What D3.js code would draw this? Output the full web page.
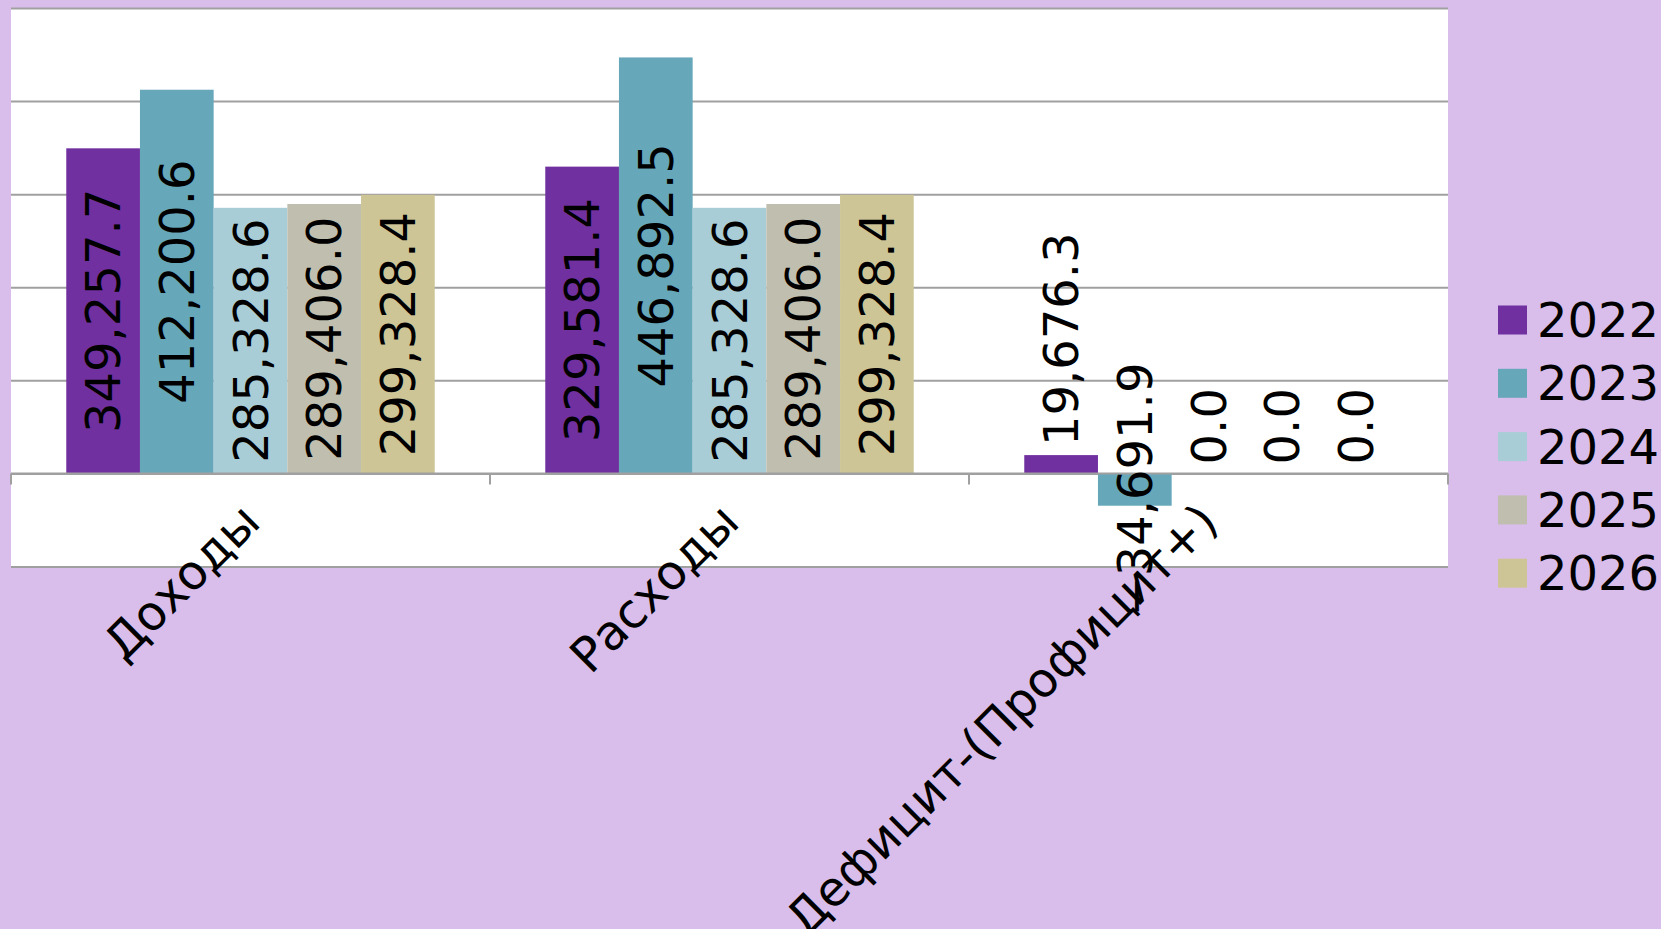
<!DOCTYPE html>
<html>
<head>
<meta charset="utf-8">
<script src="https://cdn.jsdelivr.net/npm/d3@7"></script>
<style>
  html, body { margin: 0; padding: 0; background: #d9beec; }
  svg { display: block; }
  text { font-family: "DejaVu Sans", sans-serif; fill: #000; }
</style>
</head>
<body>
<svg id="chart" width="1661" height="929"></svg>
<script>
// ---- data ----
const categories = ["Доходы", "Расходы", "Дефицит-(Профицит+)"];
const years = ["2022", "2023", "2024", "2025", "2026"];
const values2022 = [349257.7, 329581.4, 19676.3];
const values2023 = [412200.6, 446892.5, -34691.9];
const values2024 = [285328.6, 285328.6, 0.0];
const values2025 = [289406.0, 289406.0, 0.0];
const values2026 = [299328.4, 299328.4, 0.0];
const seriesValues = [values2022, values2023, values2024, values2025, values2026];
const yTicks = [-100000, 0, 100000, 200000, 300000, 400000, 500000];
const colors = ["#7030a0", "#66a7ba", "#a9cdd7", "#c0bfaf", "#cec597"];

// ---- layout ----
const W = 1661, H = 929;
const plot = { left: 11, right: 1448, top: 8, bottom: 566.5 };
const fontSize = 48;
const gridColor = "#a0a0a0";

const svg = d3.select("#chart");

// plot area background
svg.append("rect")
  .attr("x", plot.left).attr("y", plot.top)
  .attr("width", plot.right - plot.left).attr("height", plot.bottom - plot.top)
  .attr("fill", "#ffffff");

const y = d3.scaleLinear().domain([-100000, 500000]).range([plot.bottom, plot.top]);
const x0 = d3.scaleBand().domain(categories).range([plot.left, plot.right]).paddingInner(0).paddingOuter(0);
const x1 = d3.scaleBand().domain(years).range([0, x0.bandwidth()]).paddingInner(0).paddingOuter(0.75);
const color = d3.scaleOrdinal().domain(years).range(colors);

// gridlines
const grid = svg.append("g")
  .attr("transform", `translate(${plot.left},0)`)
  .call(d3.axisLeft(y).tickValues(yTicks).tickSize(-(plot.right - plot.left)).tickFormat(""));
grid.select(".domain").remove();
grid.selectAll(".tick line").attr("stroke", gridColor).attr("stroke-width", 2);

// rows
const rows = [];
categories.forEach((c, ci) => {
  years.forEach((yr, si) => {
    rows.push({ cat: c, year: yr, value: seriesValues[si][ci] });
  });
});

// bars
const groups = svg.append("g").selectAll("g")
  .data(categories).join("g")
  .attr("transform", d => `translate(${x0(d)},0)`);

groups.selectAll("rect")
  .data(c => rows.filter(r => r.cat === c))
  .join("rect")
  .attr("x", d => x1(d.year))
  .attr("width", x1.bandwidth())
  .attr("y", d => y(Math.max(0, d.value)))
  .attr("height", d => Math.abs(y(d.value) - y(0)))
  .attr("fill", d => color(d.year));

// x axis line and tick marks at category boundaries
const y0 = y(0);
svg.append("line")
  .attr("x1", plot.left).attr("x2", plot.right)
  .attr("y1", y0).attr("y2", y0)
  .attr("stroke", gridColor).attr("stroke-width", 2);
const boundaries = categories.map(c => x0(c)).concat([x0(categories[categories.length - 1]) + x0.bandwidth()]);
svg.append("g").selectAll("line")
  .data(boundaries).join("line")
  .attr("x1", d => d).attr("x2", d => d)
  .attr("y1", y0).attr("y2", y0 + 11)
  .attr("stroke", gridColor).attr("stroke-width", 2);

// data labels
const fmt = d3.format(",.1f");
const labelG = svg.append("g");
rows.forEach(d => {
  const cx = x0(d.cat) + x1(d.year) + x1.bandwidth() / 2;
  const top = y(Math.max(0, d.value));
  const bot = y(Math.min(0, d.value));
  const t = labelG.append("text")
    .attr("font-size", fontSize)
    .attr("dominant-baseline", "central")
    .text(fmt(d.value));
  const len = t.node().getComputedTextLength();
  const barH = bot - top;
  if (len <= barH || d.value < 0) {
    const cy = (top + bot) / 2;
    t.attr("text-anchor", "middle")
     .attr("transform", `translate(${cx},${cy}) rotate(-90)`);
  } else {
    t.attr("text-anchor", "start")
     .attr("transform", `translate(${cx},${top - 9}) rotate(-90)`);
  }
});

// category labels
svg.append("g").selectAll("text")
  .data(categories).join("text")
  .attr("font-size", fontSize)
  .attr("text-anchor", "end")
  .attr("dominant-baseline", "central")
  .attr("transform", d => `translate(${x0(d) + x0.bandwidth() / 2},${y0 + 39}) rotate(-45)`)
  .text(d => d);

// legend
const legend = { x: 1498, y: 320, step: 63.3, box: 29 };
const lg = svg.append("g").selectAll("g")
  .data(years).join("g")
  .attr("transform", (d, i) => `translate(${legend.x},${legend.y + i * legend.step})`);
lg.append("rect")
  .attr("x", 0).attr("y", -legend.box / 2)
  .attr("width", legend.box).attr("height", legend.box)
  .attr("fill", d => color(d));
lg.append("text")
  .attr("x", 39).attr("y", 0)
  .attr("font-size", fontSize)
  .attr("dominant-baseline", "central")
  .text(d => d);
</script>
</body>
</html>
